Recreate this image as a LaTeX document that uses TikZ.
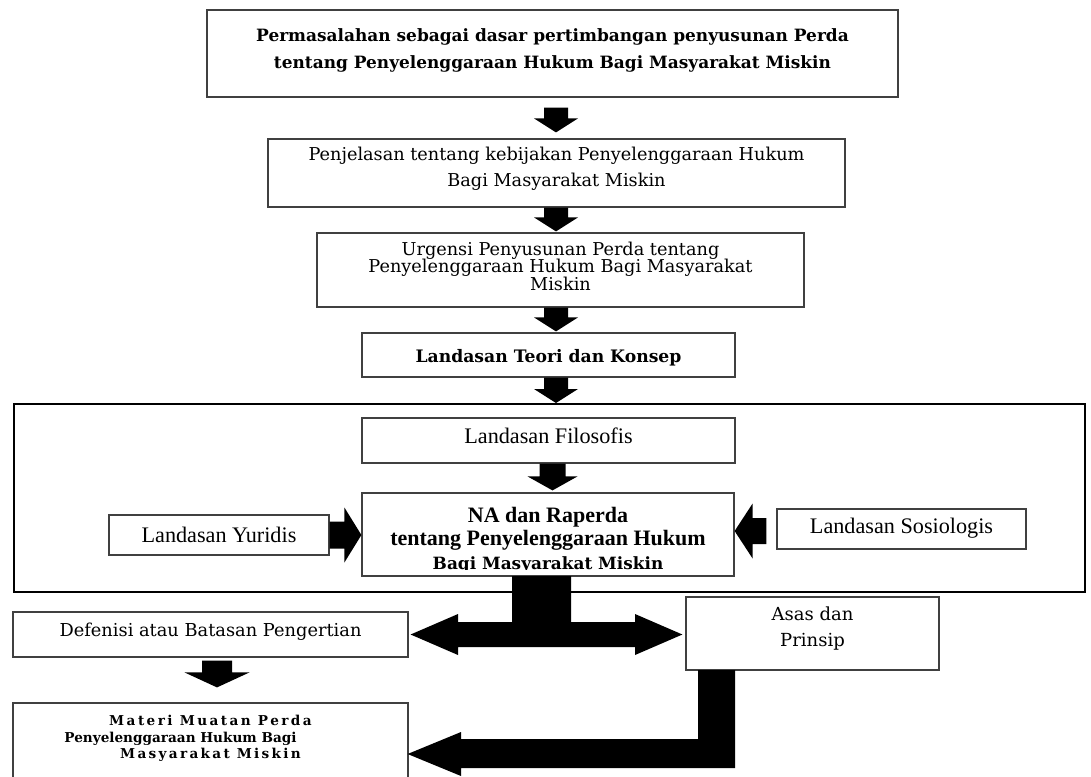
\documentclass[tikz,border=0pt]{standalone}
\usepackage{fontspec}
\setmainfont{DejaVu Serif}
\newfontfamily\timesf{Liberation Serif}
\usetikzlibrary{calc}
\tikzset{
  box/.style={draw=black!75, line width=0.6pt, inner sep=0pt, rectangle},
  outerbox/.style={draw=black, line width=1pt, inner sep=0pt, rectangle},
  txt/.style={inner sep=0pt, align=center},
  blockarrow/.style={fill=black},
}
% block arrow from #1 (start of shaft) to #2 (tip):
% #3 shaft half-width, #4 head half-width, #5 head length
\newcommand\blkarrow[5]{%
  \coordinate (hb) at ($(#2)!#5!(#1)$);
  \fill[blockarrow] ($(#1)!#3!90:(#2)$) -- ($(hb)!#3!90:(#2)$) -- ($(hb)!#4!90:(#2)$)
    -- (#2) -- ($(hb)!#4!-90:(#2)$) -- ($(hb)!#3!-90:(#2)$) -- ($(#1)!#3!-90:(#2)$) -- cycle;}
\begin{document}
\begin{tikzpicture}[x=0.5pt,y=-0.5pt]
\clip (0,0) rectangle (1091,776);
\fill[white] (0,0) rectangle (1091,776);

% outer frame
\node[outerbox, minimum width=535.5pt, minimum height=94pt] (outer) at (549.5,498) {};

% boxes
\node[box, minimum width=345.5pt, minimum height=43.5pt] (b1) at (552.5,53.5) {};
\node[txt, font=\bfseries\fontsize{8.48}{13.5}\selectfont] (b1t) at (552.5,50)
  {Permasalahan sebagai dasar pertimbangan penyusunan Perda\\tentang Penyelenggaraan Hukum Bagi Masyarakat Miskin};

\node[box, minimum width=288.5pt, minimum height=34pt] (b2) at (556.5,173) {};
\node[txt, font=\fontsize{8.85}{13}\selectfont] (b2t) at (556.5,169)
  {Penjelasan tentang kebijakan Penyelenggaraan Hukum\\Bagi Masyarakat Miskin};

\node[box, minimum width=243.5pt, minimum height=37pt] (b3) at (560.5,270) {};
\node[txt, font=\fontsize{8.85}{8.7}\selectfont] (b3t) at (560.5,266)
  {Urgensi Penyusunan Perda tentang\\Penyelenggaraan Hukum Bagi Masyarakat\\Miskin};

\node[box, minimum width=186.5pt, minimum height=22pt] (b4) at (548.5,355) {};
\node[txt, font=\bfseries\fontsize{8.6}{10}\selectfont] (b4t) at (548.5,358)
  {Landasan Teori dan Konsep};

\node[box, minimum width=186.5pt, minimum height=22.5pt] (fil) at (548.5,440.5) {};
\node[txt, font=\timesf\fontsize{11.1}{13}\selectfont] (filt) at (548.5,436) {Landasan Filosofis};

\node[box, minimum width=186pt, minimum height=41.5pt] (na) at (548,534.5) {};
\node[txt, font=\timesf\bfseries\fontsize{11}{11.5}\selectfont] (nat) at (548,528.5)
  {NA dan Raperda\\tentang Penyelenggaraan Hukum};
\begin{scope}
  \clip (362,493) rectangle (734,569);
  \node[txt, font=\bfseries\fontsize{8.45}{10}\selectfont, anchor=base] (nat3) at (548,569)
    {Bagi Masyarakat Miskin};
\end{scope}

\node[box, minimum width=110pt, minimum height=20pt] (yur) at (219,535) {};
\node[txt, font=\timesf\fontsize{11.1}{13}\selectfont] (yurt) at (219,535) {Landasan Yuridis};

\node[box, minimum width=124.5pt, minimum height=20pt] (sos) at (901.5,529) {};
\node[txt, font=\timesf\fontsize{11.1}{13}\selectfont] (sost) at (901.5,528) {Landasan Sosiologis};

\node[box, minimum width=197.5pt, minimum height=22.5pt] (def) at (210.5,634.5) {};
\node[txt, font=\fontsize{8.9}{11}\selectfont] (deft) at (210.5,632) {Defenisi atau Batasan Pengertian};

\node[box, minimum width=126.5pt, minimum height=36.5pt] (asas) at (812.5,633.5) {};
\node[txt, font=\fontsize{9}{13}\selectfont] (asast) at (812.5,629) {Asas dan\\Prinsip};

\node[box, minimum width=197.5pt, minimum height=48.5pt] (mat) at (210.5,751.5) {};
\node[txt, font=\bfseries\fontsize{6.8}{8.3}\selectfont] (matt) at (210.5,738.5)
  {{\addfontfeature{LetterSpace=18}Materi Muatan Perda}\\Penyelenggaraan Hukum Bagi\rule{30pt}{0pt}\\{\addfontfeature{LetterSpace=17}Masyarakat Miskin}};

% straight block arrows (named start / tip coordinates)
\coordinate (a1s) at ($(b1.south)+(3.5,10)$);
\coordinate (a1t) at ($(a1s |- b2.north)+(0,-6)$);
\coordinate (a2s) at (b2.south -| a1s);
\coordinate (a2t) at ($(b3.north -| a1s)+(0,-1)$);
\coordinate (a3s) at (b3.south -| a1s);
\coordinate (a3t) at ($(b4.north -| a1s)+(0,-1)$);
\coordinate (a4s) at (b4.south -| a1s);
\coordinate (a4t) at (outer.north -| a1s);
\coordinate (a5s) at ($(fil.south)+(4,0)$);
\coordinate (a5t) at ($(na.north -| a5s)+(0,-2)$);
\coordinate (ays) at (yur.east);
\coordinate (ayt) at (yur.east -| na.west);
\coordinate (ass) at ($(sos.west)+(-10,2)$);
\coordinate (ast) at ($(sos.west -| na.east)+(0,2)$);
\coordinate (ads) at ($(def.south)+(6.5,3)$);
\coordinate (adt) at ($(ads |- mat.north)+(0,-15)$);

\blkarrow{a1s}{a1t}{6pt}{11pt}{7pt}
\blkarrow{a2s}{a2t}{6pt}{11pt}{7pt}
\blkarrow{a3s}{a3t}{6pt}{11pt}{7pt}
\blkarrow{a4s}{a4t}{6pt}{11pt}{7pt}
\blkarrow{a5s}{a5t}{6.5pt}{12.5pt}{7pt}
\blkarrow{ays}{ayt}{6.75pt}{13.75pt}{8.5pt}
\blkarrow{ass}{ast}{6.5pt}{13.75pt}{9pt}
\blkarrow{ads}{adt}{7.5pt}{16.25pt}{7.5pt}

% T-shaped double arrow from NA box
\coordinate (tl) at ($(def.east)+(2,0)$);
\coordinate (tr) at ($(asas.west)+(-3,1)$);
\fill[blockarrow] (512,576) -- (571,576) -- (571,622) -- (635,622) -- (635,614) -- (tr)
  -- (635,655) -- (635,647) -- (458,647) -- (458,655) -- (tl)
  -- (458,614) -- (458,622) -- (512,622) -- cycle;

% elbow arrow from Asas dan Prinsip to Materi
\coordinate (et) at ($(mat.east)+(-1,2.5)$);
\fill[blockarrow] (698,670) -- (735,670) -- (735,768) -- (461,768) -- (461,776) -- (et)
  -- (461,732) -- (461,739) -- (698,739) -- cycle;
\end{tikzpicture}
\end{document}
